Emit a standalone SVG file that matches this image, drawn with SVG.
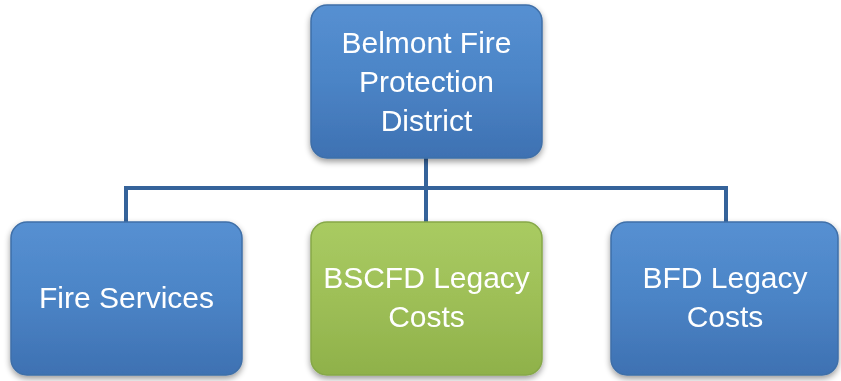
<svg xmlns="http://www.w3.org/2000/svg" width="841" height="381" viewBox="0 0 841 381">
  <style>
    .lbl { font-family: "Liberation Sans", Arial, sans-serif; font-size: 30px; fill: #ffffff; text-anchor: middle; }
    .box { stroke-width: 1.5; }
    .blue { fill: url(#gBlue); stroke: #3f6fa8; }
    .green { fill: url(#gGreen); stroke: #86a848; }
    .conn { stroke: #35639a; stroke-width: 4; fill: none; }
  </style>
  <defs>
    <linearGradient id="gBlue" x1="0" y1="0" x2="0" y2="1">
      <stop offset="0" stop-color="#5690d2"/>
      <stop offset="0.5" stop-color="#4b84c6"/>
      <stop offset="1" stop-color="#3e71b2"/>
    </linearGradient>
    <linearGradient id="gGreen" x1="0" y1="0" x2="0" y2="1">
      <stop offset="0" stop-color="#a9cb62"/>
      <stop offset="0.5" stop-color="#9ebf57"/>
      <stop offset="1" stop-color="#8fb14a"/>
    </linearGradient>
    <filter id="sh" x="-10%" y="-10%" width="120%" height="130%">
      <feGaussianBlur in="SourceAlpha" stdDeviation="3"/>
      <feOffset dx="0" dy="3" result="b"/>
      <feComponentTransfer><feFuncA type="linear" slope="0.4"/></feComponentTransfer>
      <feMerge><feMergeNode/><feMergeNode in="SourceGraphic"/></feMerge>
    </filter>
  </defs>
  <rect width="841" height="381" fill="#ffffff"/>
  <g id="connectors">
    <path class="conn" d="M426 158 V188 M126 188 H726 M126 186 V222 M426 188 V222 M726 186 V222"/>
  </g>
  <g id="node-top" filter="url(#sh)">
    <rect class="box blue" x="311" y="5" width="231" height="153" rx="16"/>
    <text class="lbl" x="426.5" y="53">Belmont Fire</text>
    <text class="lbl" x="426.5" y="92">Protection</text>
    <text class="lbl" x="426.5" y="131">District</text>
  </g>
  <g id="node-fire" filter="url(#sh)">
    <rect class="box blue" x="11" y="222" width="231" height="153" rx="16"/>
    <text class="lbl" x="126.5" y="308">Fire Services</text>
  </g>
  <g id="node-bscfd" filter="url(#sh)">
    <rect class="box green" x="311" y="222" width="231" height="153" rx="16"/>
    <text class="lbl" x="426.5" y="288">BSCFD Legacy</text>
    <text class="lbl" x="426.5" y="327">Costs</text>
  </g>
  <g id="node-bfd" filter="url(#sh)">
    <rect class="box blue" x="611" y="222" width="227" height="153" rx="16"/>
    <text class="lbl" x="725" y="288">BFD Legacy</text>
    <text class="lbl" x="725" y="327">Costs</text>
  </g>
</svg>
